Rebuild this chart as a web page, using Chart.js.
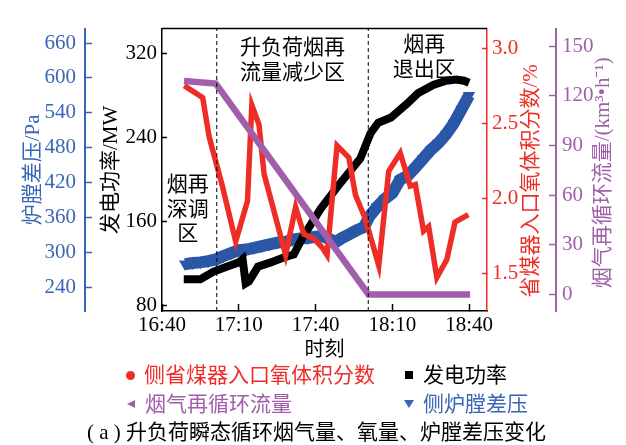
<!DOCTYPE html>
<html>
<head>
<meta charset="utf-8">
<script src="https://cdn.jsdelivr.net/npm/chart.js@4.4.1/dist/chart.umd.min.js"></script>
<style>
  html, body { margin: 0; padding: 0; background: #fff; }
  #wrap { position: relative; width: 626px; height: 445px; }
  #wrap canvas { position: absolute; left: 0; top: 0; }
  .lab { position: absolute; font: 21px "Liberation Serif", "Noto Sans CJK SC", serif; line-height: 24px; white-space: nowrap; }
  .mk { position: absolute; width: 0; height: 0; }
</style>
</head>
<body>
<div id="wrap"><canvas id="chart" width="626" height="445"></canvas></div>
<script>
// time is kept as minutes after 16:40
const timeTicks = [0, 30, 60, 90, 120];
const timeTickLabels = ["16:40", "17:10", "17:40", "18:10", "18:40"];
const powerTicks = [80, 160, 240, 320];
const pressureTicks = [240, 300, 360, 420, 480, 540, 600, 660];
const oxygenTicks = [1.5, 2.0, 2.5, 3.0];
const recircTicks = [0, 30, 60, 90, 120, 150];

// generator output, MW
const powerTime = [8.5, 15, 20, 25.5, 30, 31.5, 32.7, 34, 37.5, 42.5, 48, 51.5, 55, 62, 69.5, 77.5, 81.5, 84.5, 89.5, 95.7, 100, 106, 111, 115, 118, 120];
const powerMW = [105, 105, 112, 117, 121, 124, 101, 103, 117, 121, 126, 128.5, 145, 172, 196, 220, 244, 254, 259, 272, 282, 290, 294, 295, 294, 292];

// O2 at economizer inlet, %
const oxygenTime = [8.7, 15.9, 18.4, 23.6, 28.8, 33.4, 35.1, 37.9, 39.9, 48.3, 52.2, 55.4, 59.3, 62.6, 64.5, 68.4, 73.0, 75.6, 79.5, 84.7, 88.6, 93.1, 97.0, 99.0, 102.2, 104.2, 107.4, 111.3, 114.5, 119.7];
const oxygenPct = [2.75, 2.67, 2.41, 2.08, 1.71, 1.98, 2.62, 2.49, 2.16, 1.62, 1.94, 1.76, 1.73, 1.67, 1.62, 2.35, 2.27, 2.02, 1.86, 1.55, 2.18, 2.30, 2.08, 2.09, 1.78, 1.81, 1.47, 1.59, 1.84, 1.89];

// flue gas recirculation flow, km3/h
const recircTime = [8.6, 21, 80.7, 120.4];
const recircFlow = [129, 127.4, 0, 0];

// furnace differential pressure, Pa
const pressureTime = [9, 12, 15, 18, 21, 24, 27, 30, 33, 36, 39, 42, 45, 48, 51, 54, 57, 60, 63, 66, 68, 70, 73, 76, 79, 81, 84, 87, 90, 93, 96, 99, 102, 105, 108, 111, 114, 117, 120];
const pressurePa = [280, 282, 283, 285, 288, 294, 299, 304, 305, 308, 311, 314, 317, 318, 322, 324, 325, 327, 328, 322, 318, 324, 331, 338, 344, 362, 378, 392, 402, 425, 432, 446, 461, 476, 488, 503, 522, 546, 570];

// zone boundaries (dashed lines)
const zoneBounds = [21.4, 80.6];

const FONT = '"Liberation Serif", "Noto Sans CJK SC", serif';
const RED = "#ee2d27";
const BLUE = "#3b66b5";
const BLUE_DATA = "#2a57a6";
const PURPLE = "#a15fab";
const BLACK = "#000";

const pts = (ts, vs) => ts.map((t, i) => ({ x: t, y: vs[i] }));
const fixTicks = list => scale => { scale.ticks = list.map(v => ({ value: v })); };

const MW_MIN = 74.7, MW_MAX = 343.6;

const zoneNotes = [
  { t: 10.1, lines: ["烟再", "深调", "区"], y0: 157, dy: 24.5 },
  { t: 51, lines: ["升负荷烟再", "流量减少区"], y0: 20, dy: 25 },
  { t: 102.5, lines: ["烟再", "退出区"], y0: 17, dy: 25 }
];

const decor = {
  id: "decor",
  afterDraw(chart) {
    const { ctx, chartArea: a, scales } = chart;
    ctx.save();
    ctx.strokeStyle = BLACK;
    ctx.lineWidth = 1.5;
    ctx.beginPath();
    ctx.moveTo(a.left, a.top);
    ctx.lineTo(a.right, a.top);
    ctx.stroke();

    ctx.font = "21px " + FONT;
    ctx.fillStyle = BLACK;
    ctx.textAlign = "center";
    ctx.textBaseline = "middle";
    zoneNotes.forEach(n => {
      const x = scales.x.getPixelForValue(n.t);
      n.lines.forEach((s, i) => ctx.fillText(s, x, a.top + n.y0 + i * n.dy));
    });

    // right-hand axis titles read bottom to top
    const mid = (a.top + a.bottom) / 2;
    [[scales.o2, "省煤器入口氧体积分数/%", RED, 44, 11],
     [scales.fgr, "烟气再循环流量/(km³•h⁻¹)", PURPLE, 47, 3]].forEach(([s, txt, c, dx, dy]) => {
      ctx.save();
      ctx.translate(s.left + dx, mid + dy);
      ctx.rotate(-Math.PI / 2);
      ctx.fillStyle = c;
      ctx.fillText(txt, 0, 0);
      ctx.restore();
    });
    ctx.restore();
  }
};

function yAxis(opts) {
  return {
    type: "linear",
    position: opts.position,
    weight: opts.weight,
    min: opts.min,
    max: opts.max,
    afterBuildTicks: fixTicks(opts.ticks),
    afterFit: s => { s.width = opts.width; },
    border: { color: opts.color, width: opts.borderWidth || 1.5 },
    grid: { drawOnChartArea: false, drawTicks: true, tickLength: -opts.tick, tickColor: opts.color, tickWidth: 1.5 },
    ticks: {
      color: opts.color,
      padding: opts.padding,
      font: { size: 21, family: FONT },
      callback: opts.format || (v => String(v))
    },
    title: opts.title ? {
      display: true, text: opts.title, color: opts.color,
      font: { size: 21, family: FONT }, padding: { top: opts.titlePad, bottom: 0 }
    } : { display: false }
  };
}

const ctx = document.getElementById("chart");
new Chart(ctx, {
  type: "line",
  data: {
    datasets: [
      ...zoneBounds.map(t => ({
        data: pts([t, t], [MW_MIN, MW_MAX]), yAxisID: "mw",
        borderColor: BLACK, borderWidth: 1, borderDash: [4, 3], pointRadius: 0, order: 0
      })),
      {
        label: "烟气再循环流量", data: pts(recircTime, recircFlow), yAxisID: "fgr",
        borderColor: PURPLE, borderWidth: 6.5, borderCapStyle: "butt", pointRadius: 0, order: 1
      },
      {
        label: "侧省煤器入口氧体积分数", data: pts(oxygenTime, oxygenPct), yAxisID: "o2",
        borderColor: RED, borderWidth: 5.5, pointRadius: 0, order: 2
      },
      {
        label: "发电功率", data: pts(powerTime, powerMW), yAxisID: "mw",
        borderColor: BLACK, borderWidth: 8, pointRadius: 0, order: 3
      },
      {
        label: "侧炉膛差压", data: pts(pressureTime, pressurePa), yAxisID: "pa",
        borderColor: BLUE_DATA, borderWidth: 12, pointRadius: 7, pointStyle: "triangle",
        pointRotation: 180, pointBackgroundColor: BLUE_DATA, pointBorderWidth: 0, order: 4
      }
    ]
  },
  options: {
    responsive: false,
    animation: false,
    layout: { padding: { left: 0, right: 0, top: 6, bottom: 82 } },
    plugins: { legend: { display: false }, tooltip: { enabled: false } },
    scales: {
      x: {
        type: "linear",
        position: "bottom",
        min: 0,
        max: 127,
        afterBuildTicks: fixTicks(timeTicks),
        afterFit: s => { s.height = 52; },
        border: { color: BLACK, width: 1.5 },
        grid: { drawOnChartArea: false, drawTicks: true, tickLength: -7, tickColor: BLACK, tickWidth: 1.5 },
        ticks: {
          color: BLACK, padding: 9, maxRotation: 0,
          font: { size: 21, family: FONT },
          callback: v => timeTickLabels[timeTicks.indexOf(v)]
        },
        title: { display: true, text: "时刻", color: BLACK, font: { size: 20, family: FONT }, padding: { top: 0, bottom: 0 } }
      },
      mw: yAxis({ position: "left", weight: 0, min: MW_MIN, max: MW_MAX, ticks: powerTicks, width: 77,
        color: BLACK, tick: 5, padding: 10, title: "发电功率/MW", titlePad: 13.4 }),
      pa: yAxis({ position: "left", weight: 1, min: 199.4, max: 684.8, ticks: pressureTicks, width: 85,
        color: BLUE, tick: 7, padding: 16, borderWidth: 2, title: "炉膛差压/Pa", titlePad: 20.4 }),
      o2: yAxis({ position: "right", weight: 0, min: 1.247, max: 3.13, ticks: oxygenTicks, width: 69,
        color: RED, tick: 5, padding: 10, format: v => v.toFixed(1) }),
      fgr: yAxis({ position: "right", weight: 1, min: -10, max: 160.6, ticks: recircTicks, width: 70,
        color: PURPLE, tick: 7, padding: 13, borderWidth: 2 })
    }
  },
  plugins: [decor]
});

// legend and caption below the plot
const legendItems = [
  { text: "侧省煤器入口氧体积分数", color: RED, shape: "circle", x: 130, y: 375 },
  { text: "发电功率", color: BLACK, shape: "square", x: 409, y: 375 },
  { text: "烟气再循环流量", color: PURPLE, shape: "left", x: 131, y: 404 },
  { text: "侧炉膛差压", color: BLUE, shape: "down", x: 409, y: 404 }
];
const wrap = document.getElementById("wrap");
legendItems.forEach(it => {
  const m = document.createElement("div");
  m.className = "mk";
  const st = m.style;
  if (it.shape === "circle") {
    Object.assign(st, { width: "9px", height: "9px", borderRadius: "50%", background: it.color, left: (it.x - 4.5) + "px", top: (it.y - 4.5) + "px" });
  } else if (it.shape === "square") {
    Object.assign(st, { width: "8px", height: "8px", background: it.color, left: (it.x - 4) + "px", top: (it.y - 4) + "px" });
  } else if (it.shape === "left") {
    Object.assign(st, { borderTop: "4px solid transparent", borderBottom: "4px solid transparent", borderRight: "8px solid " + it.color, left: (it.x - 4) + "px", top: (it.y - 4) + "px" });
  } else {
    Object.assign(st, { borderLeft: "5px solid transparent", borderRight: "5px solid transparent", borderTop: "8px solid " + it.color, left: (it.x - 5) + "px", top: (it.y - 4) + "px" });
  }
  wrap.appendChild(m);
  const t = document.createElement("div");
  t.className = "lab";
  t.textContent = it.text;
  t.style.color = it.color;
  t.style.left = (it.x + 14) + "px";
  t.style.top = (it.y - 12) + "px";
  wrap.appendChild(t);
});
const cap = document.createElement("div");
cap.className = "lab";
cap.textContent = "( a ) 升负荷瞬态循环烟气量、氧量、炉膛差压变化";
cap.style.left = "87px";
cap.style.top = "420px";
cap.style.color = BLACK;
wrap.appendChild(cap);
</script>
</body>
</html>
